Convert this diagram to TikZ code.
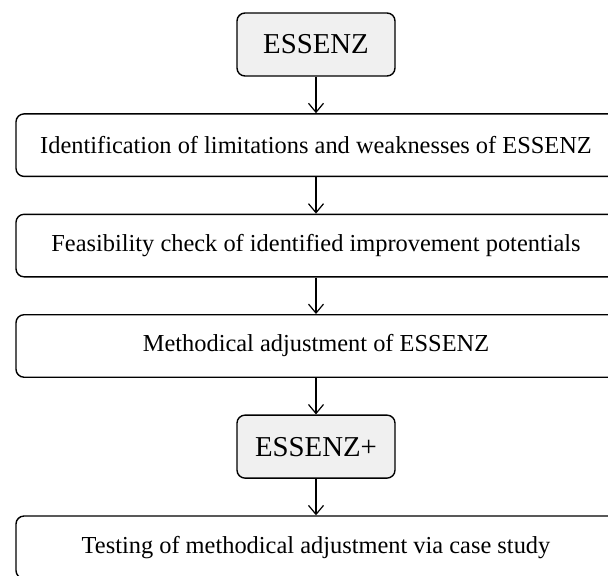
\documentclass[tikz,border=0pt]{standalone}
\usepackage{fontspec}
\setmainfont{Liberation Serif}
\usetikzlibrary{positioning, arrows.meta}
\tikzset{
>={Straight Barb[length=4.5pt,width=7.5pt]},
  stepbig/.style={
    rectangle,
    rounded corners=4pt,
    draw=black, line width=0.7pt,
    minimum width=300pt,
    minimum height=31.25pt,
    text centered,
    font=\fontsize{12.2}{14}\selectfont},
  stepsmall/.style={
    rectangle,
    rounded corners=4pt,
    fill=black!6,
    draw=black, line width=0.7pt,
    minimum width=79pt,
    minimum height=31.5pt,
    text centered,
    font=\fontsize{14.4}{17}\selectfont},
  line/.style={draw, semithick, ->},
}
\begin{document}
\begin{tikzpicture}[node distance=18.25pt]
			\useasboundingbox (0,0) rectangle (304pt,-287.5pt);
			\node[stepsmall] (essenz) at (158pt,-22.25pt) {ESSENZ};
			\node[stepbig, below=of essenz] (ident) {Identification of limitations and weaknesses of ESSENZ};
			\node[stepbig, below=of ident] (feas) {Feasibility check of identified improvement potentials};
			\node[stepbig, below=of feas] (adjust) {Methodical adjustment of ESSENZ};
			\node[stepsmall, below=of adjust] (plus) {ESSENZ+};
			\node[stepbig, below=of plus] (test) {Testing of methodical adjustment via case study};
			\foreach \a/\b in {essenz/ident, ident/feas, feas/adjust, adjust/plus, plus/test}{
				\draw[line] (\a) -- (\b);
			}
		\end{tikzpicture}
\end{document}
